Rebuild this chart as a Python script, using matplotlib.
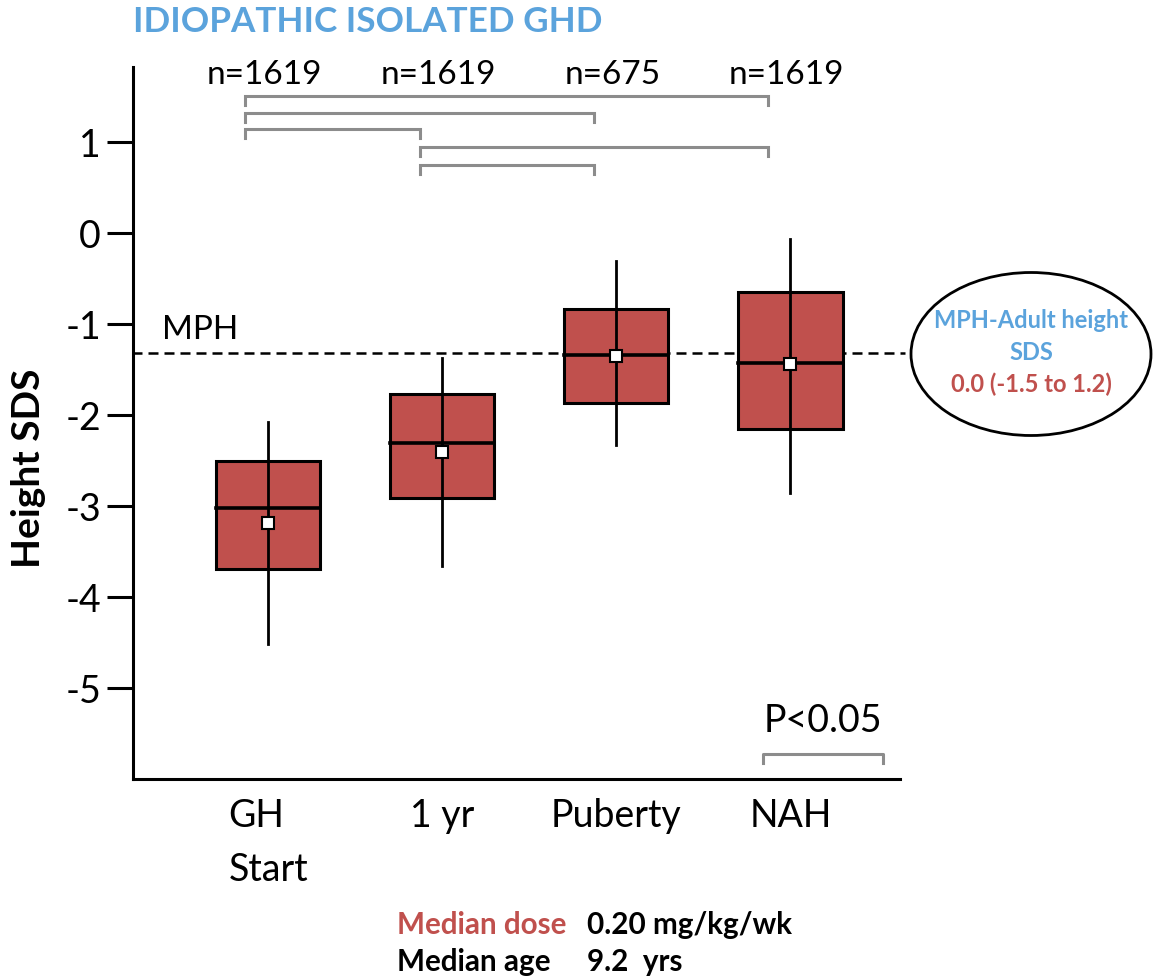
import matplotlib
matplotlib.use("Agg")
import matplotlib.pyplot as plt
from matplotlib.patches import Rectangle, Ellipse

plt.rcParams['font.family'] = ['Lato', 'DejaVu Sans']

# data
categories = ["GH\nStart", "1 yr", "Puberty", "NAH"]
n_labels = ["n=1619", "n=1619", "n=675", "n=1619"]
box_lo = [-3.69, -2.91, -1.87, -2.15]
box_hi = [-2.50, -1.77, -0.83, -0.64]
medians = [-3.02, -2.30, -1.34, -1.42]
means = [-3.19, -2.40, -1.35, -1.44]
whisk_lo = [-4.52, -3.66, -2.33, -2.86]
whisk_hi = [-2.07, -1.37, -0.30, -0.06]
mph_sds = -1.31
pairs = [(0, 3), (0, 2), (0, 1), (1, 3), (1, 2)]
pair_levels = [1.51, 1.32, 1.15, 0.95, 0.75]

RED = '#C0504D'
BLUE = '#5BA3DC'
GRAY = '#8C8C8C'

fig = plt.figure(figsize=(11.53, 9.77), dpi=100)
ax = fig.add_axes([133/1153, 1-779/977, (900-133)/1153, (779-67)/977])

xs = list(range(len(categories)))
bw = 0.6

# MPH dashed line
ax.plot([-0.78, 3.66], [mph_sds, mph_sds], color='black', lw=1.8,
        dashes=(4, 2.4), clip_on=False, zorder=1)
ax.text(-0.61, mph_sds + 0.08, "MPH", fontsize=24, ha='left', va='bottom')

for x, lo, hi, med, mn, wl, wh in zip(xs, box_lo, box_hi, medians, means, whisk_lo, whisk_hi):
    ax.add_patch(Rectangle((x - bw/2, lo), bw, hi - lo, facecolor=RED,
                           edgecolor='black', lw=2.2, zorder=2))
    ax.plot([x, x], [wl, wh], color='black', lw=2, zorder=3)
    ax.plot([x - bw/2, x + bw/2], [med, med], color='black', lw=2.6, zorder=3)
    ax.plot(x, mn, marker='s', ms=8, mfc='white', mec='black', mew=1.5, zorder=4)

# n labels
for x, lab in zip(xs, n_labels):
    ax.text(x - 0.02, 1.74, lab, fontsize=24, ha='center', va='center')

# comparison brackets
off = -0.13
for (a, b), lev in zip(pairs, pair_levels):
    ax.plot([a + off, a + off, b + off, b + off], [lev - 0.1, lev, lev, lev - 0.1],
            color=GRAY, lw=2.2, clip_on=False, solid_joinstyle='miter')

# P<0.05 bracket
ax.plot([2.845, 2.845, 3.534, 3.534], [-5.82, -5.73, -5.73, -5.82],
        color=GRAY, lw=2.2, clip_on=False)
ax.text(3.19, -5.36, "P<0.05", fontsize=27, ha='center', va='center')

ax.set_xlim(-0.776, 3.63)
ax.set_ylim(-6.0, 1.83)
ax.set_yticks([1, 0, -1, -2, -3, -4, -5])
ax.set_yticklabels(['1', '0', '-1', '-2', '-3', '-4', '-5'])
ax.set_xticks(xs)
ax.set_xticklabels(categories, linespacing=1.6, multialignment='left')
ax.tick_params(axis='y', length=19, width=2.2, labelsize=27, pad=4)
ax.tick_params(axis='x', length=0, labelsize=27, pad=14)
for s in ['top', 'right']:
    ax.spines[s].set_visible(False)
for s in ['left', 'bottom']:
    ax.spines[s].set_linewidth(2.2)

fig.text(29/1153, 1-468/977, "Height SDS", rotation=90, fontsize=28,
         fontweight='bold', ha='center', va='center')
fig.text(133/1153, 1-22/977, "IDIOPATHIC ISOLATED GHD", fontsize=25.3,
         fontweight='bold', color=BLUE, ha='left', va='center')

# ellipse callout
fig.patches.append(Ellipse((1031/1153, 1-354/977), 240/1153, 163/977,
                           transform=fig.transFigure, facecolor='white',
                           edgecolor='black', lw=2))
fig.text(1031/1153, 1-321/977, "MPH-Adult height", fontsize=17, fontweight='bold',
         color=BLUE, ha='center', va='center')
fig.text(1031/1153, 1-353/977, "SDS", fontsize=17, fontweight='bold',
         color=BLUE, ha='center', va='center')
fig.text(1031/1153, 1-384/977, "0.0 (-1.5 to 1.2)", fontsize=17, fontweight='bold',
         color=RED, ha='center', va='center')

# footer
fig.text(397/1153, 1-925/977, "Median dose", fontsize=21.3, fontweight='bold',
         color=RED, ha='left', va='center')
fig.text(587/1153, 1-925/977, "0.20 mg/kg/wk", fontsize=21.3, fontweight='bold',
         color='black', ha='left', va='center')
fig.text(397/1153, 1-962/977, "Median age", fontsize=21.3, fontweight='bold',
         color='black', ha='left', va='center')
fig.text(587/1153, 1-962/977, "9.2  yrs", fontsize=21.3, fontweight='bold',
         color='black', ha='left', va='center')

fig.savefig("out.png", dpi=100)
